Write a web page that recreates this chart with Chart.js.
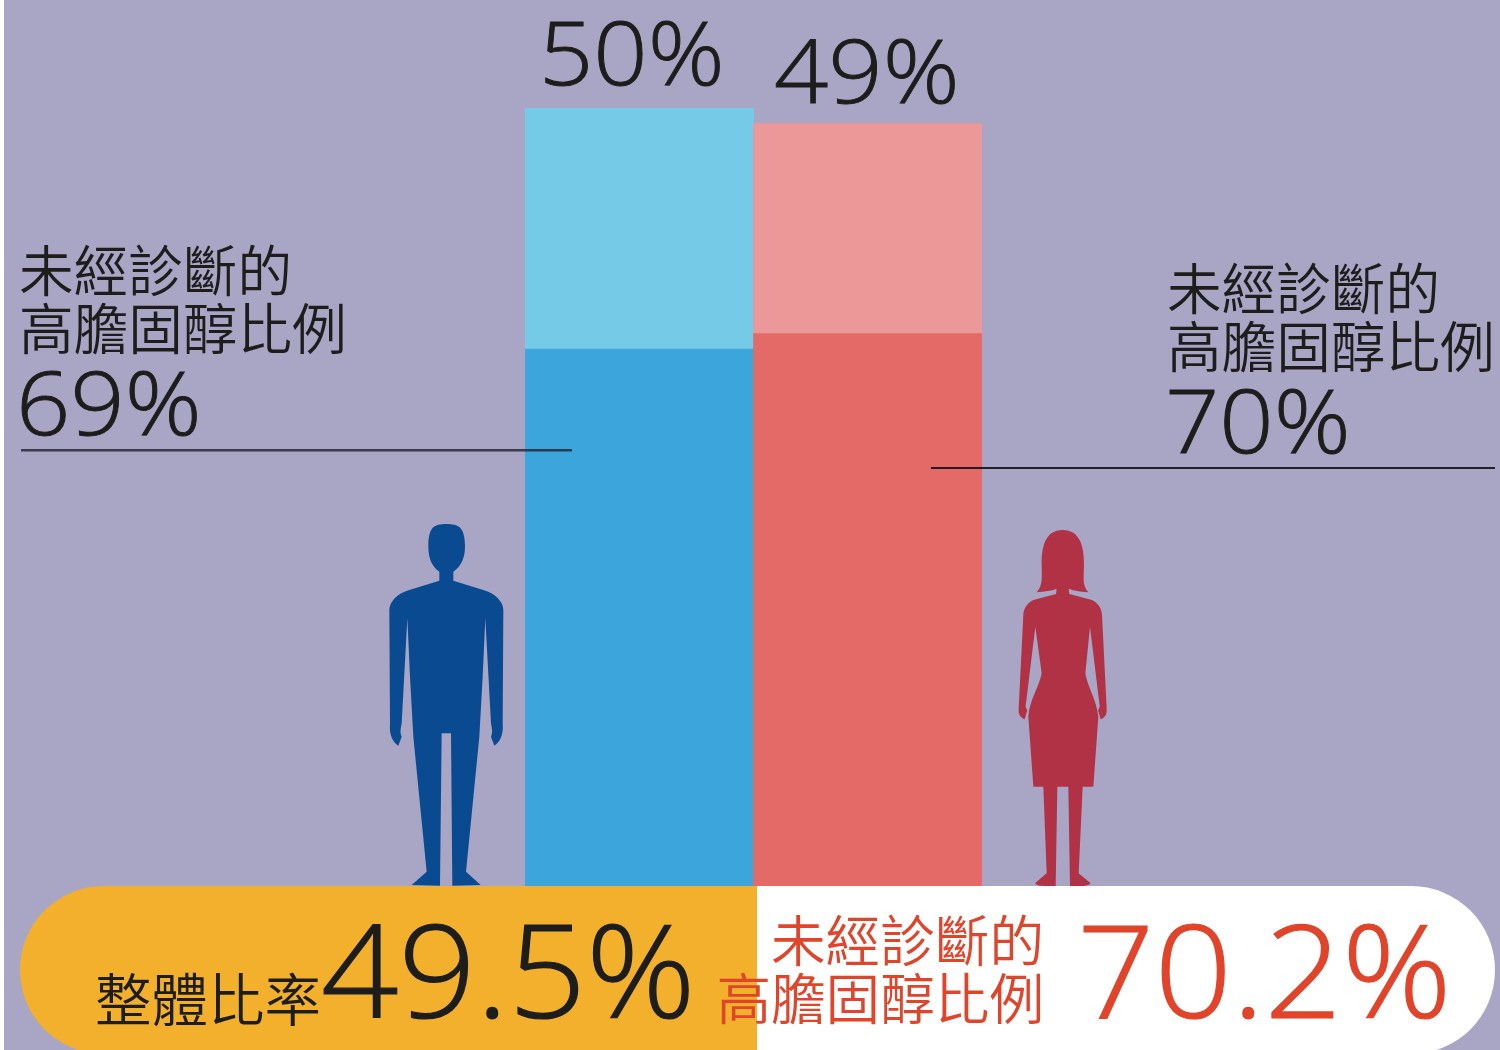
<!DOCTYPE html>
<html lang="zh-Hant"><head><meta charset="utf-8">
<style>html,body{margin:0;padding:0;background:#fff}canvas{display:block}</style>
<script src="https://cdn.jsdelivr.net/npm/chart.js@4"></script>
</head><body><canvas id="c" width="1500" height="1050"></canvas>
<script>
const categories = ['男性', '女性'];
const undiagnosedHighChol = [34.5, 35.5];
const remainder = [15.5, 13.5];
const totalLabels = ['50%', '49%'];
const undiagnosedLabels = ['69%', '70%'];
const overallLabel = '整體比率';
const overallValue = '49.5%';
const overallUndiagnosedValue = '70.2%';
const captionLine1 = '未經診斷的';
const captionLine2 = '高膽固醇比例';

const CJK = '350 54.6px "Noto Sans CJK TC"';
const LATIN = '300 89px "Open Sans"';
const BIG = '300 130px "Open Sans"';
const INK = '#1d1d1b', RED = '#e0442a';

function txt(ctx, s, x, y, font, color, align) {
  ctx.font = font; ctx.fillStyle = color; ctx.textAlign = align || 'left';
  ctx.textBaseline = 'alphabetic'; ctx.fillText(s, x, y);
}
function num(ctx, s, x, y, font, color, sx, weight) {
  ctx.save();
  ctx.translate(x, y); ctx.scale(sx, 1);
  ctx.font = font; ctx.fillStyle = color; ctx.strokeStyle = color; ctx.lineWidth = weight;
  ctx.textAlign = 'left'; ctx.textBaseline = 'alphabetic';
  ctx.fillText(s, 0, 0); ctx.strokeText(s, 0, 0);
  ctx.restore();
}
const MALE = new Path2D('M259 42C295 42 315 50 315 110C315 150 298 172 280 185L280 212L370 240C405 250 430 275 430 300L428 640C432 680 415 700 403 707L393 680C400 665 394 650 393 640L376 325L368 500L358 680L318 1085L362 1125L277 1127L273 670L245 670L240 1127L155 1125L200 1085L160 680L150 500L142 325L125 640C124 650 118 665 125 680L115 707C103 700 86 680 90 640L88 300C88 275 113 250 148 240L238 212L238 185C220 172 205 150 205 110C205 50 223 42 259 42Z');
const FEMALE = new Path2D('M188 30C240 30 252 80 252 130C252 170 245 195 265 217C240 215 220 212 208 207L168 207C155 212 135 215 110 217C130 195 125 170 125 130C125 80 136 30 188 30Z'
 + 'M170 205L206 205L208 222L276 240C295 250 305 265 306 285L320 565C322 585 312 595 302 598L294 570C300 565 300 555 298 550L270 320L256 460C262 500 290 540 295 590L280 800L248 800L236 1060L272 1090C265 1098 250 1100 210 1098L205 800L172 800L167 1098C125 1100 112 1098 105 1090L140 1060L130 800L100 800L85 590C88 540 118 500 125 460L106 320L78 550C76 555 76 565 82 570L74 598C64 595 54 585 56 565L70 285C71 265 81 250 100 240L168 222Z');

const decorations = {
  id: 'decorations',
  beforeDatasetsDraw(chart) {
    const ctx = chart.ctx; ctx.save();
    ctx.fillStyle = '#a9a5c5'; ctx.fillRect(4, 0, 1496, 1050);
    ctx.save(); ctx.translate(360, 510); ctx.scale(1/3, 1/3); ctx.fillStyle = '#0a4a90'; ctx.fill(MALE); ctx.restore();
    ctx.save(); ctx.translate(1000, 520); ctx.scale(1/3, 1/3); ctx.fillStyle = '#b03244'; ctx.fill(FEMALE); ctx.restore();
    ctx.restore();
  },
  afterDatasetsDraw(chart) {
    const ctx = chart.ctx; ctx.save();
    ctx.save();
    ctx.beginPath(); ctx.roundRect(20, 886, 1475, 168, 84); ctx.clip();
    ctx.fillStyle = '#f3b02d'; ctx.fillRect(20, 886, 737, 170);
    ctx.fillStyle = '#ffffff'; ctx.fillRect(757, 886, 740, 170);
    ctx.restore();
    ctx.fillStyle = 'rgba(40,40,55,.85)';
    ctx.fillRect(21, 449, 551, 2.5);
    ctx.fillStyle = 'rgba(25,25,35,.95)';
    ctx.fillRect(931, 467, 564, 2);
    num(ctx, totalLabels[0], 539, 85, LATIN, INK, 1.07, 0.9);
    num(ctx, totalLabels[1], 774, 103, LATIN, INK, 1.07, 0.9);
    txt(ctx, captionLine1, 19, 291, CJK, INK);
    txt(ctx, captionLine2, 19, 349, CJK, INK);
    num(ctx, undiagnosedLabels[0], 16, 435, LATIN, INK, 1.07, 0.9);
    txt(ctx, captionLine1, 1167, 309, CJK, INK);
    txt(ctx, captionLine2, 1167, 367, CJK, INK);
    num(ctx, undiagnosedLabels[1], 1165, 453, LATIN, INK, 1.07, 0.9);
    txt(ctx, overallLabel, 95, 1021, '350 56.5px "Noto Sans CJK TC"', INK);
    num(ctx, overallValue, 321, 1018, BIG, INK, 1.045, 1.2);
    txt(ctx, captionLine1, 1044, 961, CJK, RED, 'right');
    txt(ctx, captionLine2, 1044, 1019, CJK, RED, 'right');
    num(ctx, overallUndiagnosedValue, 1077, 1018, BIG, RED, 1.045, 1.2);
    ctx.restore();
  }
};

new Chart(document.getElementById('c'), {
  type: 'bar',
  data: {
    labels: categories,
    datasets: [
      { label: '未經診斷的高膽固醇比例', data: undiagnosedHighChol, backgroundColor: ['#3ca6dc', '#e36a66'], borderWidth: 0 },
      { label: '其他', data: remainder, backgroundColor: ['#75cae8', '#ec9899'], borderWidth: 0 }
    ]
  },
  options: {
    responsive: false, animation: false,
    layout: { padding: { left: 525, right: 518, top: 108, bottom: 164 } },
    barPercentage: 1, categoryPercentage: 1,
    scales: {
      x: { stacked: true, display: false },
      y: { stacked: true, display: false, min: 0, max: 50 }
    },
    plugins: { legend: { display: false }, title: { display: false }, tooltip: { enabled: false } }
  },
  plugins: [decorations]
});
</script></body></html>
